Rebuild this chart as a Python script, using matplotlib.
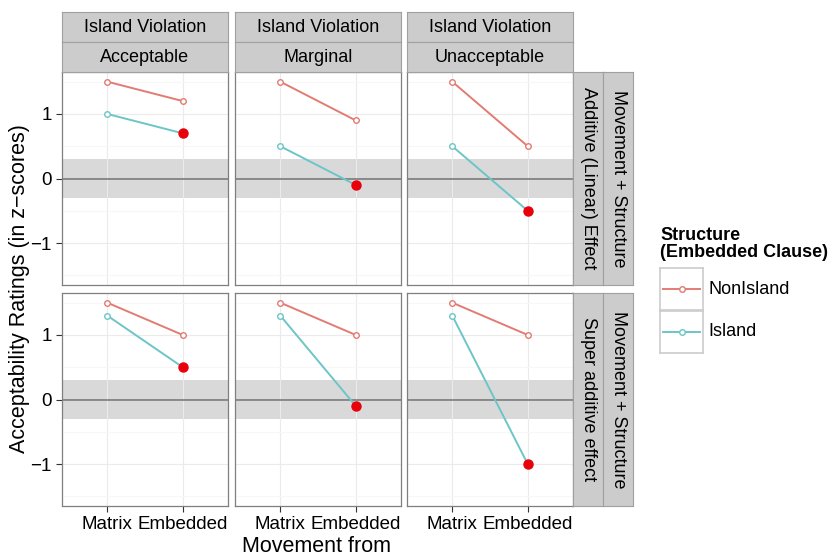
import matplotlib.pyplot as plt

plt.rcParams['font.family'] = ['Liberation Sans', 'DejaVu Sans']

# data
violations = ['Acceptable', 'Marginal', 'Unacceptable']
effects = ['Additive (Linear) Effect', 'Super additive effect']
positions = ['Matrix', 'Embedded']
structures = ['NonIsland', 'Island']
nonisland = {
    'Additive (Linear) Effect': [[1.5, 1.2], [1.5, 0.9], [1.5, 0.5]],
    'Super additive effect': [[1.5, 1.0], [1.5, 1.0], [1.5, 1.0]],
}
island = {
    'Additive (Linear) Effect': [[1.0, 0.7], [0.5, -0.1], [0.5, -0.5]],
    'Super additive effect': [[1.3, 0.5], [1.3, -0.1], [1.3, -1.0]],
}
colors = {'NonIsland': '#E27C73', 'Island': '#6CC5C7'}
ylim = (-1.65, 1.65)
band = (-0.3, 0.3)

W, H = 833, 555
fig = plt.figure(figsize=(W / 100, H / 100), dpi=100)

def box(x0, y0, w, h):
    return [x0 / W, 1 - (y0 + h) / H, w / W, h / H]

col_x = [62, 235, 407]
row_y = [72, 293]
pw, ph = 166, 213
border = '#7f7f7f'
strip_bg = '#cccccc'

def strip(rect, text, rot=0):
    a = fig.add_axes(rect)
    a.set_facecolor(strip_bg)
    a.set_xticks([]); a.set_yticks([])
    for s in a.spines.values():
        s.set_color('#a0a0a0'); s.set_linewidth(0.8)
    a.text(0.5, 0.5, text, ha='center', va='center', rotation=rot,
           fontsize=13, transform=a.transAxes)
    return a

for r, eff in enumerate(effects):
    for c, vio in enumerate(violations):
        ax = fig.add_axes(box(col_x[c], row_y[r], pw, ph))
        ax.set_xlim(-0.6, 1.6)
        ax.set_ylim(*ylim)
        ax.axhspan(*band, color='#d9d9d9', zorder=0, lw=0)
        ax.axhline(0, color='#7a7a7a', lw=1.2, zorder=1)
        ax.set_yticks([-1, 0, 1])
        ax.set_yticks([-1.5, -0.5, 0.5, 1.5], minor=True)
        ax.set_xticks(range(len(positions)))
        ax.grid(True, which='major', color='#ebebeb', lw=0.8, zorder=-1)
        ax.grid(True, which='minor', axis='y', color='#f7f7f7', lw=0.8, zorder=-1)
        ax.set_axisbelow(True)
        for s in ax.spines.values():
            s.set_color(border); s.set_linewidth(0.9)
        ax.tick_params(which='minor', length=0)
        ax.tick_params(which='major', direction='out', length=4, color='#333333',
                       width=0.8, labelsize=13.5)
        if c == 0:
            ax.set_yticklabels(['\u22121', '0', '1'])
        else:
            ax.tick_params(axis='y', length=0, labelleft=False)
        if r == 1:
            ax.set_xticklabels(positions, fontsize=13.5)
        else:
            ax.tick_params(axis='x', length=0, labelbottom=False)
        xs = list(range(len(positions)))
        for st, vals in (('NonIsland', nonisland[eff][c]), ('Island', island[eff][c])):
            ax.plot(xs, vals, color=colors[st], lw=1.4, zorder=3,
                    marker='o', ms=4, mfc='white', mec=colors[st], mew=1)
        ax.plot(xs[1], island[eff][c][1], 'o', color='#e8000b', ms=6.5, zorder=4)
        if r == 0:
            strip(box(col_x[c], 12, pw, 30), 'Island Violation')
            strip(box(col_x[c], 42, pw, 30), vio)
    strip(box(573, row_y[r], 30, ph), eff, rot=-90)
    strip(box(603, row_y[r], 30, ph), 'Movement + Structure', rot=-90)

fig.text(20 / W, 1 - 289 / H, 'Acceptability Ratings (in z\u2212scores)',
         rotation=90, ha='center', va='center', fontsize=15.5)
fig.text(317 / W, 1 - 546 / H, 'Movement from', ha='center', va='center', fontsize=15.5)

# legend
fig.text(660 / W, 1 - 244 / H, 'Structure\n(Embedded Clause)', ha='left', va='center',
         fontsize=13, fontweight='bold', linespacing=1.05)
key_y = [268, 311]
for st, ky in zip(structures, key_y):
    k = fig.add_axes(box(660, ky, 43, 42))
    k.set_xlim(0, 1); k.set_ylim(0, 1)
    k.set_xticks([]); k.set_yticks([])
    for s in k.spines.values():
        s.set_color('#cccccc'); s.set_linewidth(1.2)
    k.plot([0.08, 0.92], [0.5, 0.5], color=colors[st], lw=1.4)
    k.plot([0.5], [0.5], 'o', ms=4, mfc='white', mec=colors[st], mew=1)
    fig.text(708 / W, 1 - (ky + 21) / H, st, ha='left', va='center', fontsize=13)

fig.savefig('out.png', dpi=100)
